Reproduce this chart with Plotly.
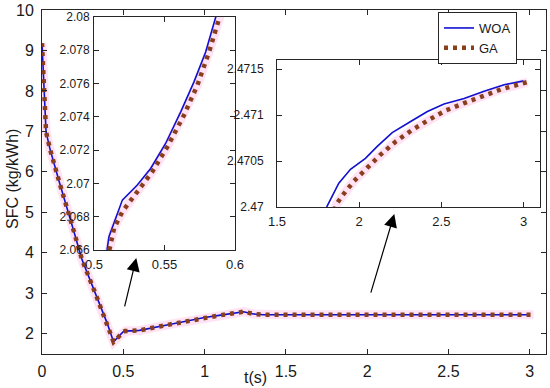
import plotly.graph_objects as go

# ---------------- data ----------------
woa_t = [0, 0.025, 0.05, 0.08, 0.11, 0.18, 0.247, 0.327, 0.40, 0.44, 0.47, 0.49, 0.50,
         0.5094, 0.5106, 0.5201, 0.5307, 0.5402, 0.5508, 0.5615, 0.5709, 0.5792, 0.5863,
         0.60, 0.80, 1.00, 1.10, 1.24, 1.30, 1.36, 1.50, 1.65,
         1.805, 1.876, 1.947, 2.038, 2.110, 2.201, 2.313, 2.415, 2.516, 2.638, 2.760,
         2.882, 2.994, 3.0]
woa_sfc = [9.18, 6.99, 6.55, 6.10, 5.70, 4.75, 3.82, 3.01, 2.27, 1.80, 1.92, 2.02, 2.05,
           2.0661, 2.0668, 2.0690, 2.0699, 2.0709, 2.0724, 2.0743, 2.0761, 2.0779, 2.0799,
           2.0840, 2.24, 2.40, 2.46, 2.545, 2.49, 2.468, 2.4685, 2.4692,
           2.47001, 2.47026, 2.47041, 2.47053, 2.47066, 2.47081, 2.47093, 2.47104, 2.47112,
           2.47118, 2.47126, 2.47133, 2.47137, 2.47137]

ga_t = [0, 0.025, 0.05, 0.08, 0.11, 0.18, 0.247, 0.327, 0.40, 0.44, 0.47, 0.49, 0.50,
        0.5106, 0.5142, 0.5201, 0.5307, 0.5413, 0.5520, 0.5638, 0.5733, 0.5816, 0.5887,
        0.60, 0.80, 1.00, 1.10, 1.24, 1.30, 1.36, 1.50, 1.70,
        1.862, 1.896, 1.967, 2.049, 2.130, 2.221, 2.323, 2.425, 2.526, 2.638, 2.750,
        2.862, 3.024]
ga_sfc = [9.18, 6.99, 6.55, 6.10, 5.70, 4.75, 3.82, 3.01, 2.27, 1.80, 1.92, 2.02, 2.05,
          2.0659, 2.0673, 2.0683, 2.0695, 2.0707, 2.0722, 2.0741, 2.0759, 2.0779, 2.0799,
          2.0830, 2.24, 2.40, 2.46, 2.545, 2.49, 2.4675, 2.468, 2.4692,
          2.47003, 2.47012, 2.47028, 2.47043, 2.47057, 2.47071, 2.47084, 2.47095, 2.47105,
          2.47113, 2.47121, 2.47128, 2.47136]

main_x_ticks = [0, 0.5, 1, 1.5, 2, 2.5, 3]
main_x_labels = ["0", "0.5", "1", "1.5", "2", "2.5", "3"]
main_y_ticks = [2, 3, 4, 5, 6, 7, 8, 9, 10]
main_y_labels = ["2", "3", "4", "5", "6", "7", "8", "9", "10"]
in1_x_ticks = [0.5, 0.55, 0.6]
in1_x_labels = ["0.5", "0.55", "0.6"]
in1_y_ticks = [2.066, 2.068, 2.07, 2.072, 2.074, 2.076, 2.078, 2.08]
in1_y_labels = ["2.066", "2.068", "2.07", "2.072", "2.074", "2.076", "2.078", "2.08"]
in2_x_ticks = [1.5, 2, 2.5, 3]
in2_x_labels = ["1.5", "2", "2.5", "3"]
in2_y_ticks = [2.47, 2.4705, 2.471, 2.4715]
in2_y_labels = ["2.47", "2.4705", "2.471", "2.4715"]

# ---------------- styling ----------------
W, H = 550, 388
BLUE = "#1010d0"
BROWN = "#8a3f1c"
HALO = "rgba(255,150,215,0.28)"
AX = "#262626"
TXT = "#1a1a1a"
FONT = "Liberation Sans, Arial, sans-serif"

def px_x(p):
    return p / W

def px_y(p):
    return 1 - p / H

fig = go.Figure()

subplots = [("x", "y"), ("x2", "y2"), ("x3", "y3")]
for i, (xa, ya) in enumerate(subplots):
    first = i == 0
    fig.add_trace(go.Scatter(x=ga_t, y=ga_sfc, xaxis=xa, yaxis=ya, mode="lines",
                             line=dict(color=HALO, width=9), showlegend=False,
                             hoverinfo="skip"))
    fig.add_trace(go.Scatter(x=woa_t, y=woa_sfc, xaxis=xa, yaxis=ya, mode="lines",
                             name="WOA", line=dict(color=BLUE, width=1.6),
                             showlegend=first))
    fig.add_trace(go.Scatter(x=ga_t, y=ga_sfc, xaxis=xa, yaxis=ya, mode="lines",
                             name="GA", line=dict(color=BROWN, width=4.5, dash="4px,5px"),
                             showlegend=first))

def axis(domain, rng, tickvals, ticktext, anchor, size, standoff):
    return dict(domain=domain, range=rng, tickvals=tickvals, ticktext=ticktext,
                anchor=anchor, ticks="inside", ticklen=5, tickcolor=AX, tickwidth=1,
                showline=True, linecolor=AX, linewidth=1, mirror="ticks",
                showgrid=False, zeroline=False, ticklabelstandoff=standoff,
                automargin=False,
                tickfont=dict(family=FONT, size=size, color=TXT))

fig.update_layout(
    width=W, height=H,
    margin=dict(l=0, r=0, t=0, b=0, autoexpand=False),
    paper_bgcolor="white", plot_bgcolor="white",
    xaxis=axis([px_x(42), px_x(546)], [0, 3.1], main_x_ticks, main_x_labels, "y", 16, 3),
    yaxis=axis([px_y(354), px_y(10)], [1.5, 10], main_y_ticks, main_y_labels, "x", 16, 4),
    xaxis2=axis([px_x(94), px_x(235)], [0.5, 0.6], in1_x_ticks, in1_x_labels, "y2", 13, 2),
    yaxis2=axis([px_y(250), px_y(17)], [2.066, 2.08], in1_y_ticks, in1_y_labels, "x2", 12, 1),
    xaxis3=axis([px_x(277), px_x(540)], [1.5, 3.1], in2_x_ticks, in2_x_labels, "y3", 13, 2),
    yaxis3=axis([px_y(207), px_y(60)], [2.47, 2.4716], in2_y_ticks, in2_y_labels, "x3", 12, 10),
    legend=dict(x=px_x(438), y=px_y(12), xanchor="left", yanchor="top",
                bgcolor="white", bordercolor=AX, borderwidth=1,
                font=dict(family=FONT, size=13, color=TXT),
                tracegroupgap=0, itemwidth=30),
    showlegend=True,
)

# axis titles
fig.add_annotation(text="t(s)", x=px_x(255), y=px_y(377), xref="paper", yref="paper",
                   xanchor="center", yanchor="middle",
                   showarrow=False, font=dict(family=FONT, size=16, color=TXT))
fig.add_annotation(text="SFC (kg/kWh)", x=px_x(12), y=px_y(179), xref="paper", yref="paper",
                   xanchor="center", yanchor="middle",
                   showarrow=False, textangle=-90,
                   font=dict(family=FONT, size=16, color=TXT))

# arrows pointing to the zoomed regions
fig.add_annotation(x=0.58, y=3.87, ax=0.506, ay=2.64, xref="x", yref="y",
                   axref="x", ayref="y", text="", showarrow=True,
                   arrowhead=2, arrowsize=2.2, arrowwidth=1.2, arrowcolor="black")
fig.add_annotation(x=2.167, y=4.96, ax=2.02, ay=2.98, xref="x", yref="y",
                   axref="x", ayref="y", text="", showarrow=True,
                   arrowhead=2, arrowsize=2.2, arrowwidth=1.2, arrowcolor="black")

fig.write_html("out.html", config={"displayModeBar": False},
               post_script="document.body.style.margin='0';document.body.style.overflow='hidden';")
